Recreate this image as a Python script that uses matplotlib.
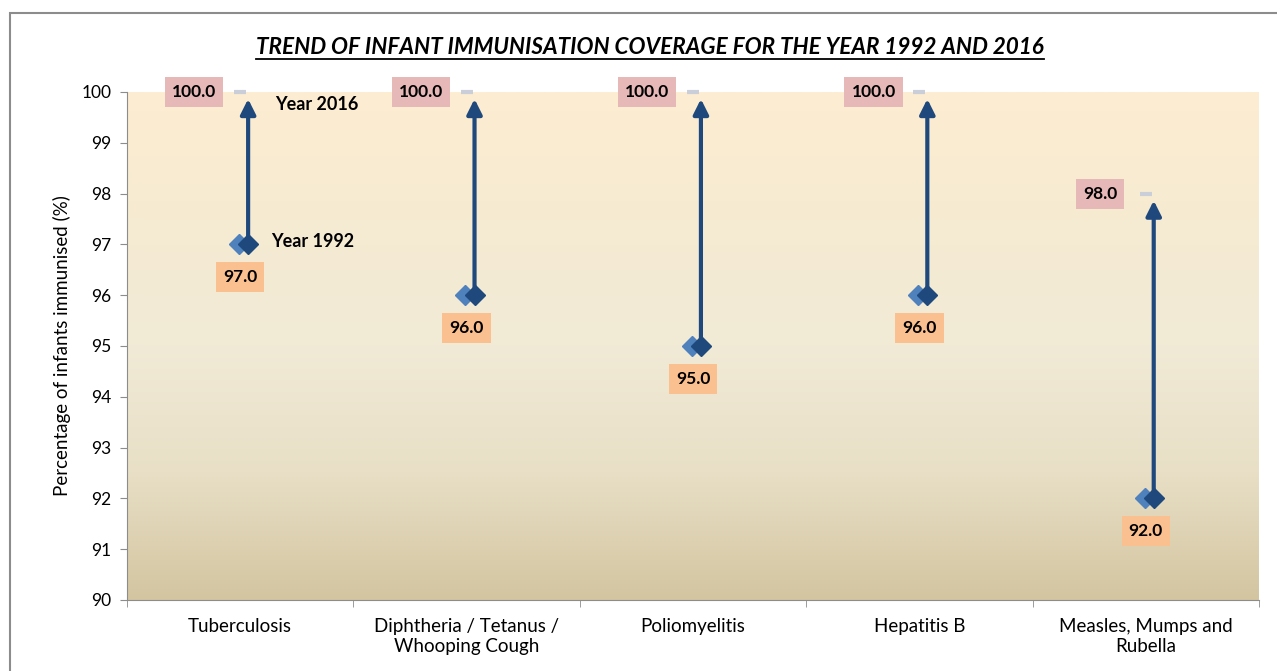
import matplotlib
matplotlib.use("Agg")
import matplotlib.pyplot as plt
import numpy as np
from matplotlib.colors import LinearSegmentedColormap
from matplotlib.patches import Rectangle
from matplotlib.lines import Line2D

plt.rcParams["font.family"] = ["Lato", "DejaVu Sans"]

# data
diseases = ["Tuberculosis", "Diphtheria / Tetanus /\nWhooping Cough", "Poliomyelitis",
            "Hepatitis B", "Measles, Mumps and\nRubella"]
cov_1992 = [97.0, 96.0, 95.0, 96.0, 92.0]
cov_2016 = [100.0, 100.0, 100.0, 100.0, 98.0]
yticks = list(range(90, 101))

col_dark = "#1F497D"
col_light = "#4F81BD"
col_pink = "#E6B9B8"
col_orange = "#FAC090"

W, H = 1277, 671
fig = plt.figure(figsize=(W / 100, H / 100), dpi=100)
ax = fig.add_axes([127 / W, 1 - 600 / H, (1259 - 127) / W, (600 - 92) / H])

# outer border
fig.add_artist(Rectangle((10 / W, -0.1), 1.2, 1 - 13 / H + 0.1, transform=fig.transFigure,
                         fill=False, edgecolor="#8c8c8c", linewidth=1.5))

n = len(diseases)
ax.set_xlim(-0.5, n - 0.5)
ax.set_ylim(90, 100)

# gradient background
grad = LinearSegmentedColormap.from_list("bg", ["#D3C5A0", "#E8DFC6", "#F1EAD6", "#F6EBD2", "#FDEDD1"])
ax.imshow(np.linspace(0, 1, 256).reshape(-1, 1), cmap=grad, aspect="auto",
          extent=(-0.5, n - 0.5, 90, 100), origin="lower", zorder=0)

x = np.arange(n)
dx = 0.035  # offset of dark marker/arrow from category centre

for i in range(n):
    ax.annotate("", xy=(x[i] + dx, cov_2016[i]), xytext=(x[i] + dx, cov_1992[i]),
                arrowprops=dict(arrowstyle="-|>,head_length=0.9,head_width=0.45", color=col_dark,
                                lw=3, shrinkA=0, shrinkB=5), zorder=3)

ax.plot(x - 0.005, cov_1992, "D", color=col_light, markersize=10, zorder=4, clip_on=False)
ax.plot(x + dx, cov_1992, "D", color=col_dark, markersize=10, zorder=5, clip_on=False)
ax.plot(x, cov_2016, "_", color="#C9CED8", markersize=9, markeredgewidth=3, zorder=4, clip_on=False)

for i in range(n):
    ax.annotate(f"{cov_2016[i]:.1f}", xy=(x[i], cov_2016[i]), xytext=(-33, 0),
                textcoords="offset points", ha="center", va="center", fontsize=12.5,
                fontweight="bold", color="black", zorder=6, annotation_clip=False,
                bbox=dict(boxstyle="square,pad=0.4", fc=col_pink, ec="none"))
    ax.annotate(f"{cov_1992[i]:.1f}", xy=(x[i], cov_1992[i]), xytext=(0, -23.5),
                textcoords="offset points", ha="center", va="center", fontsize=12.5,
                fontweight="bold", color="black", zorder=6, annotation_clip=False,
                bbox=dict(boxstyle="square,pad=0.4", fc=col_orange, ec="none"))

ax.annotate("Year 2016", xy=(x[0], cov_2016[0]), xytext=(25, -9), textcoords="offset points",
            ha="left", va="center", fontsize=13, fontweight="bold", annotation_clip=False)
ax.annotate("Year 1992", xy=(x[0], cov_1992[0]), xytext=(22, 2), textcoords="offset points",
            ha="left", va="center", fontsize=13, fontweight="bold")

# axes styling
ax.set_yticks(yticks)
ax.set_yticklabels([str(t) for t in yticks], fontsize=12.5)
ax.set_xticks(x)
ax.set_xticklabels(diseases, fontsize=13.5)
ax.set_xticks(np.arange(-0.5, n), minor=True)
ax.tick_params(axis="x", which="major", length=0, pad=13)
ax.tick_params(axis="x", which="minor", length=5, color="#8c8c8c")
ax.tick_params(axis="y", length=5, color="#8c8c8c", pad=6)
for s in ["top", "right"]:
    ax.spines[s].set_visible(False)
for s in ["left", "bottom"]:
    ax.spines[s].set_color("#8c8c8c")
ax.set_ylabel("Percentage of infants immunised (%)", fontsize=13.5, labelpad=8)

title = fig.text(650 / W, 1 - 47 / H, "TREND OF INFANT IMMUNISATION COVERAGE FOR THE YEAR 1992 AND 2016",
                 ha="center", va="center", fontsize=16.2, fontweight="bold", fontstyle="italic")
fig.canvas.draw()
bb = title.get_window_extent()
fig.add_artist(Line2D([bb.x0 / W, bb.x1 / W], [(bb.y0 - 1) / H] * 2, transform=fig.transFigure,
                      color="black", linewidth=1.3))

fig.savefig("out.png", dpi=100)
